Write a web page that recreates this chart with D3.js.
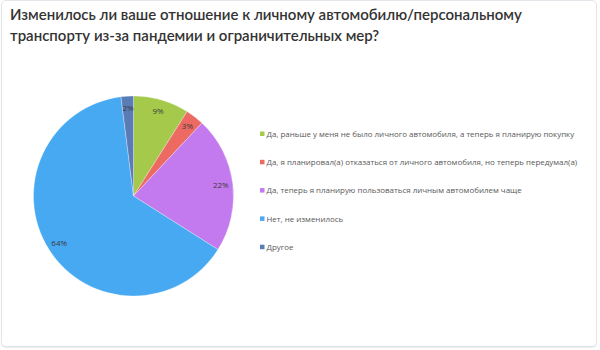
<!DOCTYPE html>
<html>
<head>
<meta charset="utf-8">
<script src="https://cdn.jsdelivr.net/npm/d3@7"></script>
<style>
  body { margin: 0; background: #fff; }
  #card {
    position: absolute; left: 1px; top: 0; width: 596px; height: 347px;
    border: 1px solid #e3e5ea; border-radius: 5px; box-sizing: border-box;
    box-shadow: 0 1px 1px #e8eaee; background: #fff;
  }
  svg { position: absolute; left: 0; top: 0; }
</style>
</head>
<body>
<div id="card"></div>
<svg id="chart" width="600" height="350"></svg>
<script>
// Data
const categories = [
  "Да, раньше у меня не было личного автомобиля, а теперь я планирую покупку",
  "Да, я планировал(а) отказаться от личного автомобиля, но теперь передумал(а)",
  "Да, теперь я планирую пользоваться личным автомобилем чаще",
  "Нет, не изменилось",
  "Другое"
];
const values = [9, 3, 22, 64, 2];
const colors = ["#a4c94b", "#ec6a62", "#c37aee", "#47a9f2", "#5a7cb6"];
const titleLines = [
  "Изменилось ли ваше отношение к личному автомобилю/персональному",
  "транспорту из-за пандемии и ограничительных мер?"
];

const svg = d3.select("#chart");

// Title
svg.append("g").selectAll("text")
  .data(titleLines)
  .join("text")
  .attr("x", 10)
  .attr("y", (d, i) => 20 + i * 20.5)
  .style("font-family", "Lato, sans-serif")
  .style("font-size", "15px")
  .style("font-weight", "600")
  .attr("fill", "#333")
  .text(d => d);

// Pie
const cx = 133.5, cy = 196, r = 100;
const g = svg.append("g").attr("transform", `translate(${cx},${cy})`);

const pie = d3.pie().sort(null).value(d => d.value);
const arcs = pie(values.map((v, i) => ({ value: v, i })));
const arc = d3.arc().innerRadius(0).outerRadius(r);
const labelArc = d3.arc().innerRadius(88).outerRadius(88);

g.selectAll("path")
  .data(arcs)
  .join("path")
  .attr("d", arc)
  .attr("fill", d => colors[d.data.i])
  .attr("stroke", "#fff")
  .attr("stroke-width", 0.3);

g.selectAll("text")
  .data(arcs)
  .join("text")
  .attr("transform", d => `translate(${labelArc.centroid(d)})`)
  .attr("text-anchor", "middle")
  .attr("dy", "0.35em")
  .style("font-family", "'Open Sans', sans-serif")
  .style("font-size", "8px")
  .attr("fill", "#3a3a3a")
  .text(d => d.data.value + "%");

// Legend
const legend = svg.append("g").attr("transform", "translate(260,134)");
const rows = legend.selectAll("g")
  .data(categories)
  .join("g")
  .attr("transform", (d, i) => `translate(0,${i * 28.3})`);

rows.append("rect")
  .attr("x", 0).attr("y", -2.5)
  .attr("width", 4.5).attr("height", 4.5)
  .attr("fill", (d, i) => colors[i]);

rows.append("text")
  .attr("x", 6.5)
  .attr("dy", "0.35em")
  .style("font-family", "'Open Sans', sans-serif")
  .style("font-size", "7.95px")
  .attr("fill", "#595959")
  .text(d => d);
</script>
</body>
</html>
